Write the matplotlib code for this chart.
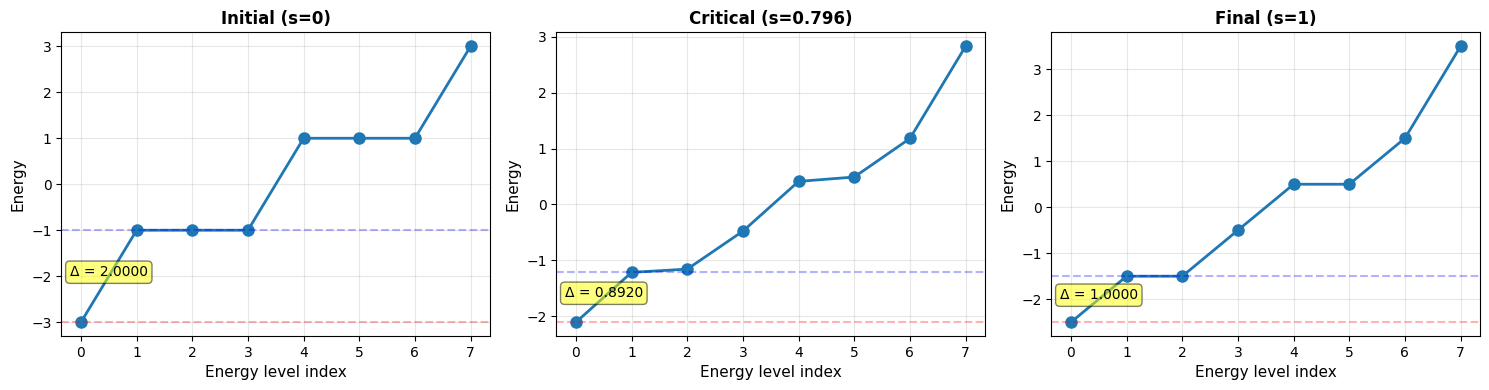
import numpy as np
import matplotlib.pyplot as plt

titles = ['Initial (s=0)', 'Critical (s=0.796)', 'Final (s=1)']
E_initial = [-3.0, -1.0, -1.0, -1.0, 1.0, 1.0, 1.0, 3.0]
E_critical = [-2.108, -1.216, -1.158, -0.478, 0.412, 0.49, 1.18, 2.83]
E_final = [-2.5, -1.5, -1.5, -0.5, 0.5, 0.5, 1.5, 3.5]
gaps = [2.0, 0.892, 1.0]

fig, axes = plt.subplots(1, 3, figsize=(14.89, 3.9), dpi=100)

for ax, title, E, gap in zip(axes, titles, [E_initial, E_critical, E_final], gaps):
    idx = np.arange(len(E))
    ax.plot(idx, E, 'o-', markersize=8, linewidth=2)
    ax.axhline(E[0], color='r', linestyle='--', alpha=0.3)
    ax.axhline(E[1], color='b', linestyle='--', alpha=0.3)
    ax.text(0.5, (E[0] + E[1]) / 2, f'Δ = {gap:.4f}', ha='center',
            fontsize=10, bbox=dict(boxstyle='round', facecolor='yellow', alpha=0.5))
    ax.set_xlabel('Energy level index', fontsize=11)
    ax.set_ylabel('Energy', fontsize=11)
    ax.set_title(title, fontsize=12, fontweight='bold')
    ax.grid(True, alpha=0.3)

plt.subplots_adjust(left=0.0413, right=0.994, top=0.9167, bottom=0.1385, wspace=0.155)
plt.savefig('out.png')
